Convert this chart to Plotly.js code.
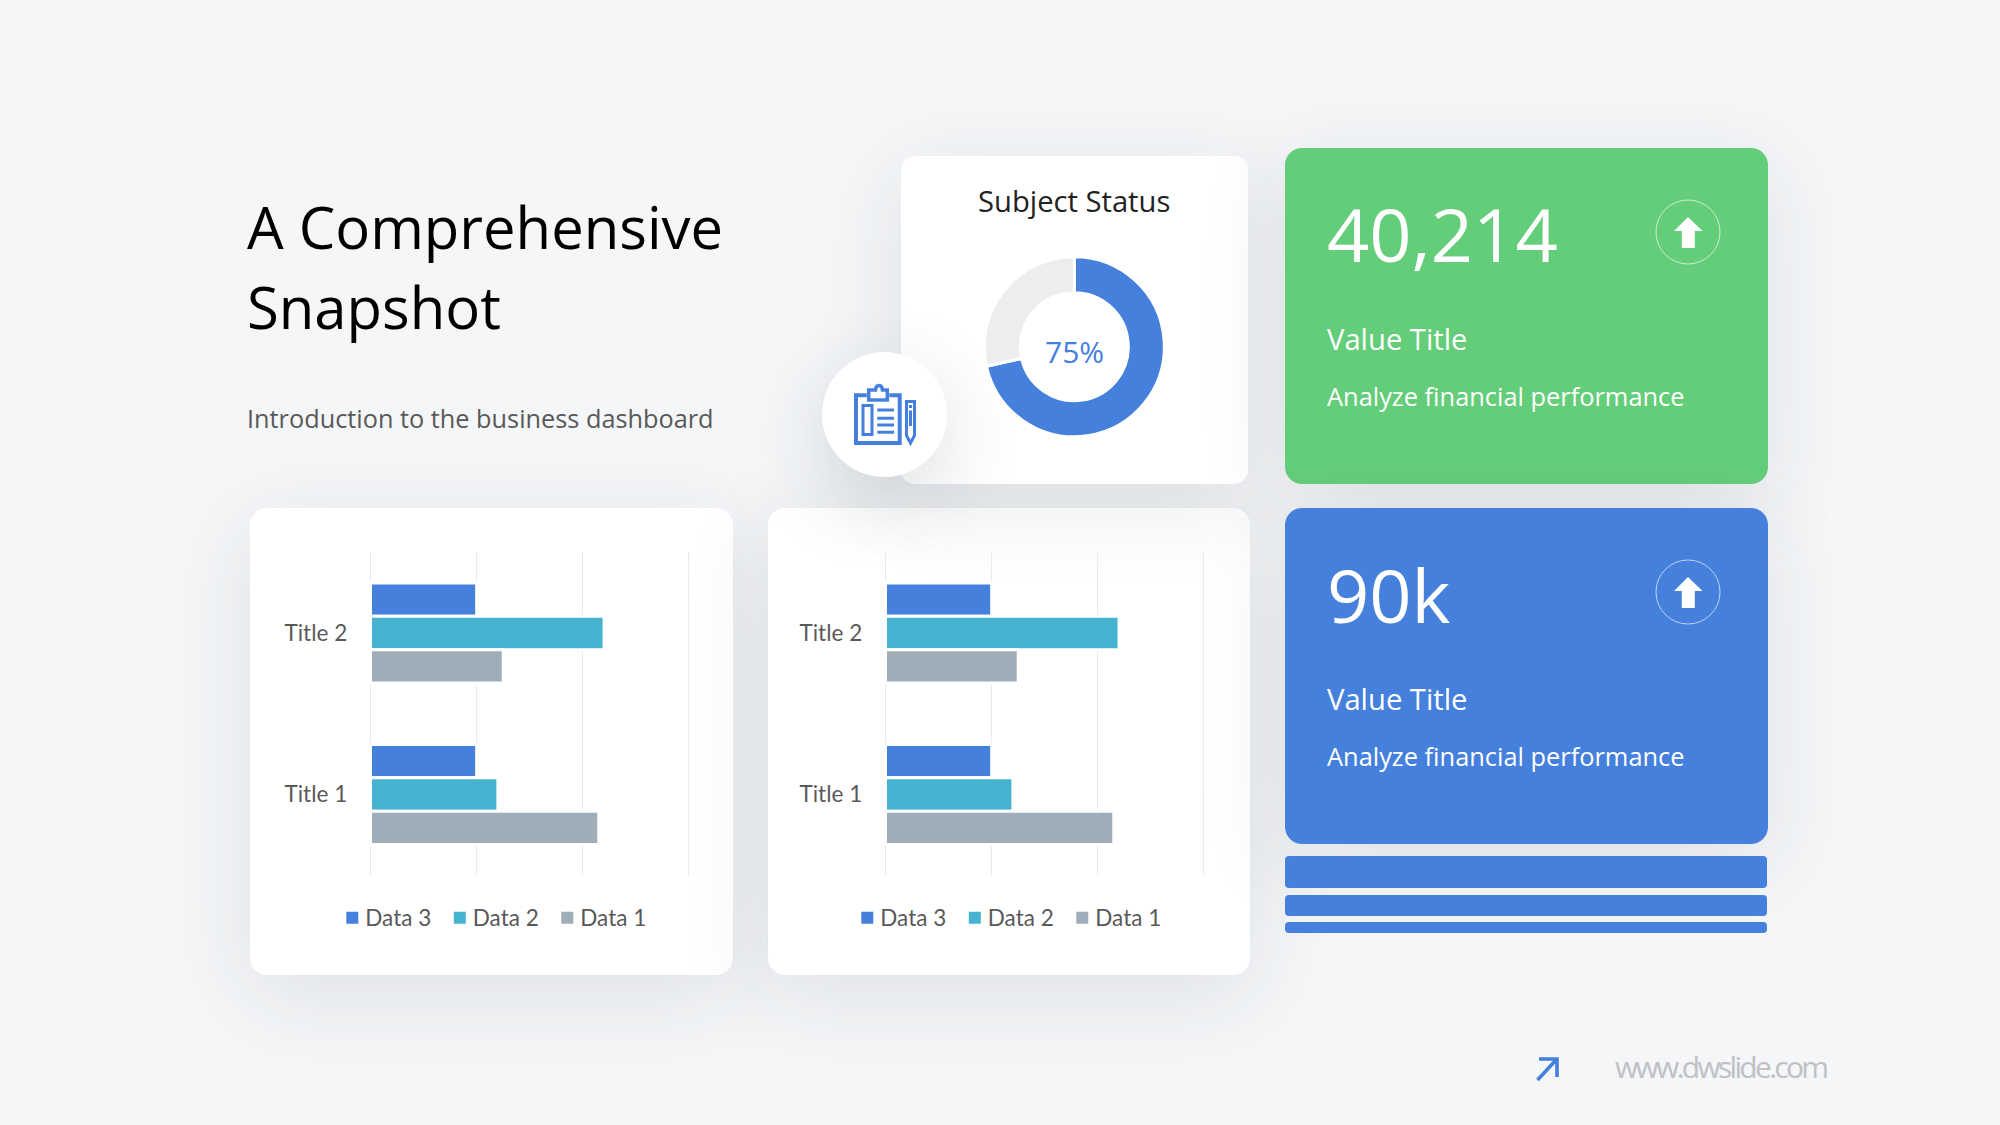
<!DOCTYPE html>
<html><head><meta charset="utf-8">
<script src="https://cdn.plot.ly/plotly-3.0.1.min.js"></script>
<style>
html,body{margin:0;padding:0;background:#f4f6f8;width:2000px;height:1125px;overflow:hidden}
#stage{position:relative;width:2000px;height:1125px}
.card{position:absolute;border-radius:17px;box-shadow:0 20px 90px rgba(40,50,60,.10)}
.strip{position:absolute;left:1285px;width:482px;background:#4580dc;border-radius:4px}
#plot{position:absolute;left:0;top:0;width:2000px;height:1125px}
svg.deco{position:absolute;left:0;top:0}
</style></head><body><div id="stage">
<div class="card" style="left:250px;top:508px;width:483px;height:467px;background:#fff"></div>
<div class="card" style="left:768px;top:508px;width:482px;height:467px;background:#fff"></div>
<div class="card" style="left:901px;top:156px;width:347px;height:328px;background:#fff;border-radius:14px"></div>
<div class="card" style="left:1285px;top:148px;width:483px;height:336px;background:#64cd7a"></div>
<div class="card" style="left:1285px;top:508px;width:483px;height:336px;background:#4580dc"></div>
<div class="strip" style="top:856px;height:32px"></div>
<div class="strip" style="top:895px;height:21px"></div>
<div class="strip" style="top:922px;height:11px"></div>
<div class="card" style="left:822px;top:352px;width:125px;height:125px;border-radius:50%;background:#fff;box-shadow:0 24px 80px rgba(40,50,60,.16)"></div>
<svg class="deco" width="2000" height="1125" fill="none">
  <g stroke="#4580dc" stroke-width="4">
    <path d="M866.7 395.3H856V443H899.7V395.3H889.3"/>
    <path d="M868.7 400V390H875.5C876 384 882 384 882.5 390H887.3V400Z" stroke-width="3.5"/>
    <rect x="863" y="405.5" width="9" height="29" stroke-width="3"/>
    <path d="M877.3 410H894M877.3 418.3H894M877.3 425H894M877.3 432.3H894" stroke-width="3"/>
    <path d="M906.5 401.5H914.5V435.5L910.5 443L906.5 435.5Z" stroke-width="3"/>
    <path d="M910.5 405V408M910.5 410.5V426" stroke-width="3"/>
  </g>
  <g>
    <circle cx="1688" cy="232" r="32" stroke="#fff" stroke-opacity=".65" stroke-width="1"/>
    <path d="M1688 217L1702.5 231H1694.8V248H1681.8V231H1674Z" fill="#fff"/>
    <circle cx="1688" cy="592" r="32" stroke="#fff" stroke-opacity=".65" stroke-width="1"/>
    <path d="M1688 577L1702.5 591H1694.8V608H1681.8V591H1674Z" fill="#fff"/>
  </g>
  <path d="M1539 1059H1557V1077M1556 1060L1537.5 1080" stroke="#4580dc" stroke-width="3.6"/>
</svg>
<div id="plot"></div></div>
<script>
// Left chart
const categories = ['Title 2', 'Title 1'];
const leftData3 = [1.0, 1.0];
const leftData2 = [2.2, 1.2];
const leftData1 = [1.25, 2.15];
// Middle chart
const midData3 = [1.0, 1.0];
const midData2 = [2.2, 1.2];
const midData1 = [1.25, 2.15];
// Donut
const donutLabels = ['Done', 'Remaining'];
const donutValues = [71.5, 28.5];
const seriesNames = ['Data 3', 'Data 2', 'Data 1'];
const seriesColors = ['#4580dc', '#45b3cf', '#9fadb8'];

const W = 2000, H = 1125;
const fx = p => p / W, fy = p => 1 - p / H;
const labelFont = {family: 'Lato, Carlito, sans-serif', size: 22.5, color: '#595959'};

function barTraces(vals, xa, ya, legend) {
  return vals.map((v, i) => ({
    type: 'bar', orientation: 'h', name: seriesNames[i], x: v, y: categories,
    xaxis: xa, yaxis: ya, legend: legend,
    marker: {color: seriesColors[i], line: {color: '#fff', width: 3}},
    hoverinfo: 'x+y+name'
  }));
}
const traces = [
  ...barTraces([leftData3, leftData2, leftData1], 'x', 'y', 'legend'),
  ...barTraces([midData3, midData2, midData1], 'x2', 'y2', 'legend2'),
  {type: 'pie', labels: donutLabels, values: donutValues, hole: 0.6, sort: false,
   direction: 'clockwise', rotation: 0, textinfo: 'none', showlegend: false,
   marker: {colors: ['#4580dc', '#ededed'], line: {color: '#fff', width: 3}},
   domain: {x: [fx(1074.3 - 90), fx(1074.3 + 90)], y: [fy(346.7 + 90), fy(346.7 - 90)]}}
];
function xAxis(l, r, anchor) {
  return {domain: [fx(l), fx(r)], range: [-0.05, 3.05], dtick: 1, tick0: 0, anchor: anchor, showgrid: true,
    gridcolor: '#e9eaec', gridwidth: 1.3, zeroline: false, showticklabels: false, showline: false, ticks: '', fixedrange: true};
}
function yAxis(anchor) {
  return {domain: [fy(875.3), fy(552.3)], type: 'category', categoryorder: 'array', categoryarray: categories,
    autorange: 'reversed', anchor: anchor, showgrid: false, zeroline: false, showline: false, ticks: '',
    ticklabelstandoff: 17, tickfont: labelFont, fixedrange: true};
}
function note(text, x, y, size, color, align, family) {
  return {text: text, xref: 'paper', yref: 'paper', x: fx(x), y: fy(y), showarrow: false,
    xanchor: align || 'left', yanchor: 'middle', align: align || 'left',
    font: {family: family || '"Open Sans", sans-serif', size: size, color: color}};
}
const legendBase = {orientation: 'h', yanchor: 'middle', xanchor: 'left', font: labelFont,
  bgcolor: 'rgba(0,0,0,0)', borderwidth: 0, entrywidth: 62.5, entrywidthmode: 'pixels'};
const annotations = [
  note('A Comprehensive', 245, 226, 58, '#000'),
  note('Snapshot', 245, 306, 58, '#000'),
  note('Introduction to the business dashboard', 245, 418, 25.3, '#595959'),
  note('Subject Status', 1074, 201, 29.2, '#222', 'center'),
  note('75%', 1074, 351, 30, '#4580dc', 'center'),
  note('40,214', 1324.5, 234, 74, '#fff'),
  note('Value Title', 1325, 338.5, 29.2, '#fff'),
  note('Analyze financial performance', 1325, 396, 25.4, '#fff'),
  note('90k', 1324.5, 594, 74, '#fff'),
  note('Value Title', 1325, 698.5, 29.2, '#fff'),
  note('Analyze financial performance', 1325, 756, 25.4, '#fff'),
  note('www.dwslide.com', 1613, 1066, 30, '#bfc1c5')
];
const layout = {
  width: W, height: H, margin: {l: 0, r: 0, t: 0, b: 0},
  paper_bgcolor: 'rgba(0,0,0,0)', plot_bgcolor: 'rgba(0,0,0,0)',
  barmode: 'group', bargap: 0.38, bargroupgap: 0,
  xaxis: xAxis(365.2, 694.3, 'y'), yaxis: yAxis('x'),
  xaxis2: xAxis(880.2, 1209.3, 'y2'), yaxis2: yAxis('x2'),
  legend: Object.assign({}, legendBase, {x: fx(325.3), y: fy(918)}),
  legend2: Object.assign({}, legendBase, {x: fx(840.3), y: fy(918)}),
  annotations: annotations, hovermode: 'closest'
};
function polish() {
  document.querySelectorAll('.legendsymbols').forEach(s => {
    s.setAttribute('transform', 'translate(7,0)');
    s.querySelectorAll('path').forEach(p => { p.style.strokeWidth = '0px'; });
  });
  document.querySelectorAll('.annotation-text').forEach(t => {
    if (t.textContent.indexOf('www.') === 0) t.style.letterSpacing = '-2.7px';
  });
}
Plotly.newPlot('plot', traces, layout, {displayModeBar: false, responsive: false}).then(gd => {
  polish();
  gd.on('plotly_afterplot', polish);
});
</script></body></html>
